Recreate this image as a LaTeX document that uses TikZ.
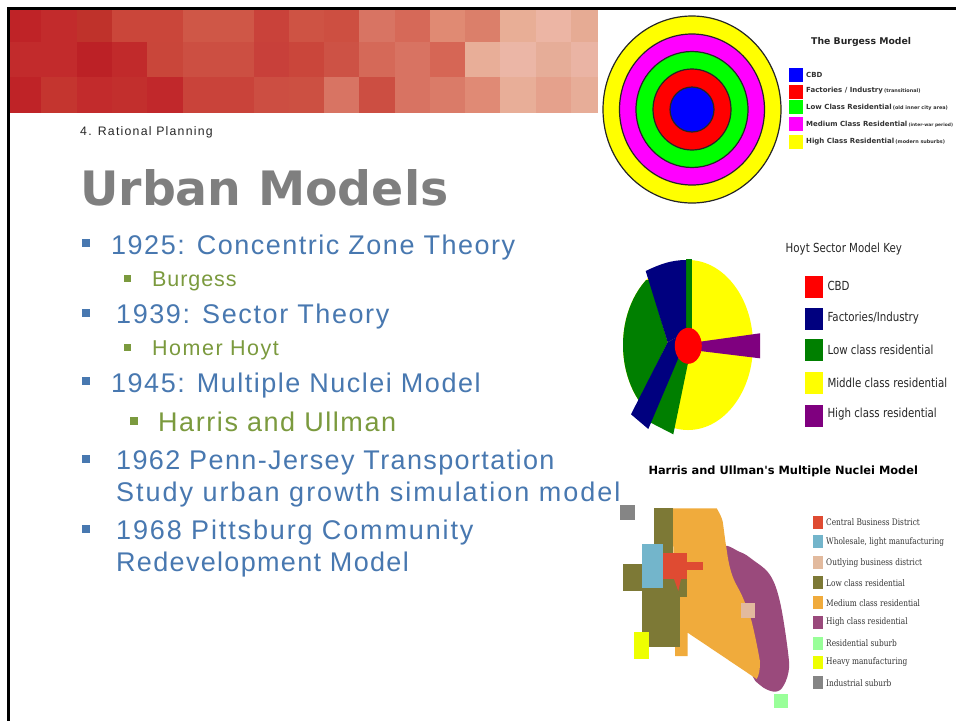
\documentclass[tikz,border=0pt]{standalone}
\usepackage{fontspec}
\usetikzlibrary{shapes.geometric}
\setmainfont{Liberation Sans}[LetterSpace=5]
\newfontfamily\djsans{DejaVu Sans}
\newfontfamily\djcond{DejaVu Sans}[FakeStretch=0.82]
\newfontfamily\djserif{DejaVu Serif}[FakeStretch=0.82]
\newcommand{\lsp}[1]{\addfontfeature{LetterSpace=#1}}
\definecolor{bluetxt}{HTML}{4878B0}
\definecolor{greentxt}{HTML}{7B9A3E}
\definecolor{titlegray}{HTML}{7F7F7F}
\definecolor{hnavy}{HTML}{00007F}
\definecolor{hgreen}{HTML}{007F00}
\definecolor{hpurple}{HTML}{7F007F}
\definecolor{nred}{HTML}{DF4B32}
\definecolor{nblue}{HTML}{73B5CB}
\definecolor{ntan}{HTML}{E2BA9E}
\definecolor{nolive}{HTML}{7D7936}
\definecolor{norange}{HTML}{F0AB3C}
\definecolor{npurple}{HTML}{9A4A7C}
\definecolor{nmint}{HTML}{99FF99}
\definecolor{nyellow}{HTML}{EEFF00}
\definecolor{ngray}{HTML}{858585}
\definecolor{pureyellow}{RGB}{255,255,0}
\definecolor{puremag}{RGB}{255,0,255}
\definecolor{puregreen}{RGB}{0,255,0}
\definecolor{purered}{RGB}{255,0,0}
\definecolor{pureblue}{RGB}{0,0,255}
\tikzset{
  lvlone/.style={anchor=base west,text=bluetxt,font=\fontsize{27}{32}\selectfont,inner sep=0pt,align=left},
  lvltwo/.style={anchor=base west,text=greentxt,font=\fontsize{21.5}{26}\selectfont,inner sep=0pt},
  blt/.style={fill=bluetxt,draw=none,minimum size=8pt,inner sep=0pt},
  bltg/.style={fill=greentxt,draw=none,minimum size=7pt,inner sep=0pt},
  ring/.style={ellipse,draw=black!85,line width=1.2pt,inner sep=0pt},
  keybox/.style={draw=none,inner sep=0pt,anchor=center},
  hlabel/.style={anchor=west,inner sep=0pt,font=\djcond\fontsize{12.5}{15}\selectfont,text=black!85},
  blabel/.style={anchor=west,inner sep=0pt,font=\djsans\bfseries\fontsize{7}{9}\selectfont,text=black!80},
  nlabel/.style={anchor=west,inner sep=0pt,font=\djserif\fontsize{9}{11}\selectfont,text=black!80}
}
\newcommand{\subnote}[2][4.9]{\,{\fontsize{#1}{5}\selectfont #2}}
\begin{document}
\begin{tikzpicture}[x=1pt,y=-1pt]
\useasboundingbox (0,0) rectangle (956,721);
\fill[white] (0,0) rectangle (956,721);
% banner
\foreach \x/\e/\c in {8/41/BF2327,41/77/C22B2C,77/112/BF322B,112/183/CA463A,183/254/CF5747,254/289/C9423A,289/324/CE5344,324/359/CD4F41,359/395/D87463,395/430/D66958,430/465/E08A73,465/500/DB7F6A,500/536/E8AE96,536/571/ECB5A4,571/598/E6AB94}
  {\definecolor{tc}{HTML}{\c}\fill[tc] (\x,9) rectangle (\e,42.3);}
\foreach \x/\e/\c in {8/77/C22B2C,77/112/BC2126,112/147/C12A2B,147/183/C9463A,183/254/CC4F42,254/289/C8403A,289/324/CA463B,324/359/CD5245,359/395/D56958,395/430/D87362,430/465/D66655,465/500/E8AE98,500/536/EBB6A6,536/571/E6AD98,571/598/EAB4A4}
  {\definecolor{tc}{HTML}{\c}\fill[tc] (\x,42.3) rectangle (\e,77.3);}
\foreach \x/\e/\c in {8/41/BF2327,41/77/C4352F,77/112/C22B2C,112/147/C22F2D,147/183/C1282B,183/254/C9433A,254/289/CC4E42,289/324/CC5042,324/359/D87463,359/395/CC4E42,395/430/D87362,430/465/DA7B68,465/500/E08A75,500/536/E8AE98,536/571/E5A18C,571/598/E7AD98}
  {\definecolor{tc}{HTML}{\c}\fill[tc] (\x,77.3) rectangle (\e,113.3);}
% frame
\fill[black] (7,7) rectangle (956,9.5);
\fill[black] (7,7) rectangle (9.5,721);
% heading
\node[anchor=base west,inner sep=0pt,font=\fontsize{12.3}{14}\selectfont,text=black!85] (sect) at (80,135) {\lsp{10}4. Rational Planning};
\node[anchor=base west,inner sep=0pt,font=\djsans\bfseries\fontsize{47.4}{56}\selectfont,text=titlegray] (ttl) at (80,205) {Urban Models};
% bullets
\node[blt] (b1) at (86,243) {};
\node[lvlone] (t1) at (111,254.5) {\lsp{5.6}1925: Concentric Zone Theory};
\node[bltg] (b1a) at (127,278) {};
\node[lvltwo] (t1a) at (152,286) {\lsp{4.3}Burgess};
\node[blt] (b2) at (86,313) {};
\node[lvlone] (t2) at (116,323.5) {\lsp{5.9}1939: Sector Theory};
\node[bltg] (b2a) at (127,347) {};
\node[lvltwo] (t2a) at (152,355) {\lsp{7}Homer Hoyt};
\node[blt] (b3) at (86,381) {};
\node[lvlone] (t3) at (111,392.5) {\lsp{5.6}1945: Multiple Nuclei Model};
\node[bltg,minimum size=8pt] (b3a) at (134,421) {};
\node[anchor=base west,text=greentxt,font=\fontsize{27}{32}\selectfont,inner sep=0pt] (t3a) at (158,431) {\lsp{5.8}Harris and Ullman};
\node[blt] (b4) at (86,459) {};
\node[lvlone] (t4) at (116,469.5) {\lsp{5.1}1962 Penn-Jersey Transportation};
\node[lvlone] (t4b) at (116,501.5) {\lsp{7.4}Study urban growth simulation model};
\node[blt] (b5) at (86,529) {};
\node[lvlone] (t5) at (116,539.5) {\lsp{6.9}1968 Pittsburg Community};
\node[lvlone] (t5b) at (116,571.5) {\lsp{4.9}Redevelopment Model};
% Burgess
\node[ring,fill=pureyellow,minimum width=178pt,minimum height=187pt] (r5) at (692,109.5) {};
\node[ring,fill=puremag,minimum width=145pt,minimum height=151pt] (r4) at (692,109.5) {};
\node[ring,fill=puregreen,minimum width=112pt,minimum height=116pt] (r3) at (692,109.5) {};
\node[ring,fill=purered,minimum width=78pt,minimum height=81pt] (r2) at (692,109.5) {};
\node[ring,fill=pureblue,minimum width=44pt,minimum height=45pt] (r1) at (692,109.5) {};
\node[anchor=west,inner sep=0pt,font=\djsans\bfseries\fontsize{9.3}{11}\selectfont,text=black!85] (bt) at (811,42) {The Burgess Model};
\foreach \n/\y/\c in {a/75.3/pureblue,b/91.7/purered,c/107.3/puregreen,d/124/puremag,e/142.3/pureyellow}
  \node[keybox,fill=\c,minimum width=14pt,minimum height=14pt] (bk\n) at (795.7,\y) {};
\node[blabel] (bl1) at (806,75) {CBD};
\node[blabel] (bl2) at (806,91) {Factories / Industry\subnote{(transitional)}};
\node[blabel] (bl3) at (806,107) {Low Class Residential\subnote{(old inner city area)}};
\node[blabel] (bl4) at (806,124) {Medium Class Residential\subnote[4.4]{(inter-war period)}};
\node[blabel] (bl5) at (806,141.5) {High Class Residential\subnote{(modern suburbs)}};
% Hoyt
\fill[pureyellow] (688,345) ellipse [x radius=65,y radius=85];
\begin{scope}
  \clip (688,345) ellipse [x radius=65,y radius=85];
  \fill[hgreen] (649.3,280) -- (667.7,342.3) -- (639.3,400) -- (600,400) -- (600,280) -- cycle;
\end{scope}
\fill[hgreen] (686,259.3) rectangle (692.3,332);
\fill[hgreen] (678,358) -- (688,363) -- (673.3,434.3) -- (650,422.3) -- cycle;
\fill[hnavy] (645.7,271) .. controls (660,264) and (672,260) .. (686,260) -- (686,332) -- (667.7,342.3) -- cycle;
\fill[hnavy] (667.7,342.3) -- (686,332) -- (686,350) -- (678.3,358.3) -- (648.3,429) -- (631,414.3) -- cycle;
\fill[hpurple] (700,341.7) -- (760,333.3) -- (760,358.3) -- (700,351) -- cycle;
\node[ellipse,fill=purered,inner sep=0pt,minimum width=27pt,minimum height=36pt] (hc) at (688.3,345.8) {};
\node[anchor=west,inner sep=0pt,font=\djcond\fontsize{12.5}{15}\selectfont,text=black!85] (ht) at (785.5,249) {Hoyt Sector Model Key};
\foreach \n/\y/\c in {a/287/purered,b/319/hnavy,c/350/hgreen,d/383/pureyellow,e/415.7/hpurple}
  \node[keybox,fill=\c,minimum width=17.4pt,minimum height=22pt] (hk\n) at (814,\y) {};
\node[hlabel] (hl1) at (827.3,286) {CBD};
\node[hlabel] (hl2) at (827.3,317.7) {Factories/Industry};
\node[hlabel] (hl3) at (827.3,349.5) {Low class residential};
\node[hlabel] (hl4) at (827.3,382.7) {Middle class residential};
\node[hlabel] (hl5) at (827.3,413.7) {High class residential};
% Nuclei
\node[anchor=west,inner sep=0pt,font=\djsans\bfseries\fontsize{11.4}{14}\selectfont,text=black] (nt) at (648.3,471.7) {Harris and Ullman's Multiple Nuclei Model};
\fill[npurple] plot[smooth cycle,tension=0.6] coordinates {(722,549) (740,552) (753,560) (770,575) (780,602) (788,652) (788.5,672) (782,688) (773,691.5) (760,685) (750,670) (725,600)};
\fill[norange] (672,508.3) -- (716.7,508.3) .. controls (720,514) and (722,518) .. (722.7,521.7) .. controls (724,530) and (725,540) .. (726.7,550) .. controls (728,560) and (730,570) .. (733.3,578.3) .. controls (736,585) and (739,589) .. (741.7,595) .. controls (746,605) and (749,612) .. (751.7,621.7) .. controls (755,635) and (758,650) .. (760,661.7) .. controls (760,670) and (759,675) .. (756.7,679) -- (687.7,632.7) -- (687.7,656) -- (675,656) -- (675,600) -- cycle;
\fill[nolive] (653.7,508.3) rectangle (673,560);
\fill[nolive] (622.7,564.3) rectangle (645,591);
\fill[nolive] (642,585) rectangle (680,647);
\fill[nolive] (662.7,553) rectangle (686.7,596.7);
\fill[nblue] (642,544) rectangle (663.3,588.3);
\fill[nred] (663.3,553.3) rectangle (686.7,579);
\fill[nred] (686.7,561.7) rectangle (703.3,570);
\fill[nred] (674,579) -- (681,579) -- (678.3,591) -- cycle;
\fill[ntan] (741,603) rectangle (755,617.7);
\fill[ngray] (620,505.3) rectangle (635,520.3);
\fill[nyellow] (634,632.3) rectangle (649,658.7);
\fill[nmint] (774,694.3) rectangle (788,708);
\foreach \n/\y/\c in {a/522.3/nred,b/541.7/nblue,c/562.7/ntan,d/582.7/nolive,e/602.7/norange,f/622.3/npurple,g/643.3/nmint,h/662.3/nyellow,i/682.7/ngray}
  \node[keybox,fill=\c,minimum width=10pt,minimum height=12.5pt] (nk\n) at (817.7,\y) {};
\node[nlabel] (nl1) at (826,522.5) {Central Business District};
\node[nlabel] (nl2) at (826,542) {Wholesale, light manufacturing};
\node[nlabel] (nl3) at (826,563) {Outlying business district};
\node[nlabel] (nl4) at (826,583) {Low class residential};
\node[nlabel] (nl5) at (826,603) {Medium class residential};
\node[nlabel] (nl6) at (826,622) {High class residential};
\node[nlabel] (nl7) at (826,643) {Residential suburb};
\node[nlabel] (nl8) at (826,662) {Heavy manufacturing};
\node[nlabel] (nl9) at (826,683) {Industrial suburb};
\end{tikzpicture}
\end{document}
